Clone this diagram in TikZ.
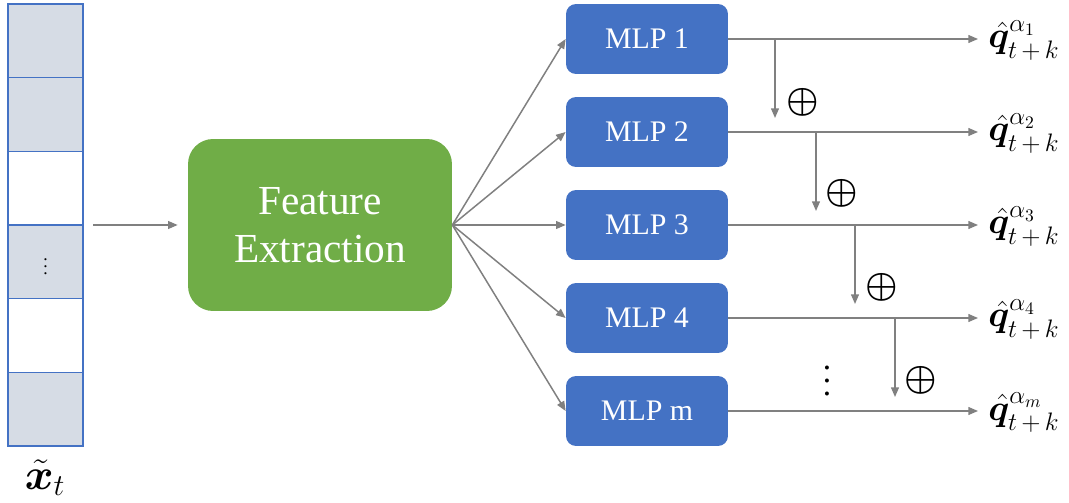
\documentclass[tikz,border=0pt]{standalone}
\usepackage{fontspec}
\setmainfont{Liberation Serif}
\usepackage{amsmath}
\usepackage{bm}
\usetikzlibrary{arrows.meta}

\definecolor{mlpblue}{HTML}{4472C4}
\definecolor{fegreen}{HTML}{70AD47}
\definecolor{cellgray}{HTML}{D6DCE5}
\definecolor{arrgray}{HTML}{808080}

\begin{document}
\begin{tikzpicture}[x=0.02cm, y=-0.02cm,
  arr/.style={draw=arrgray, line width=0.85pt, -{Triangle[length=5.5pt, width=4.5pt]}},
  cell/.style={draw=mlpblue, line width=0.8pt, minimum width=1.5cm, minimum height=1.4733cm, inner sep=0pt},
  mlpbox/.style={fill=mlpblue, rounded corners=0.2cm, minimum width=3.24cm, minimum height=1.4cm, text=white, font=\fontsize{17}{20}\selectfont},
  plus/.style={inner sep=0pt, font=\fontsize{21}{24}\selectfont},
  qout/.style={anchor=base west, inner sep=0pt, font=\fontsize{20.5}{24}\selectfont}]

\useasboundingbox (0,0) rectangle (1069,503);

% input vector
\node[cell, fill=cellgray] (c1) at (45.5,40.8)  {};
\node[cell, fill=cellgray] (c2) at (45.5,114.5) {};
\node[cell, fill=white]    (c3) at (45.5,188.2) {};
\node[cell, fill=cellgray] (c4) at (45.5,261.8) {$\vdots$};
\node[cell, fill=white]    (c5) at (45.5,335.5) {};
\node[cell, fill=cellgray] (c6) at (45.5,409.2) {};
\node (xt) at (45,478) {\fontsize{26}{30}\selectfont $\tilde{\bm{x}}_t$};

% feature extraction
\node[fill=fegreen, rounded corners=0.5cm, minimum width=5.28cm, minimum height=3.44cm,
      text=white, align=center, font=\fontsize{23.5}{27}\selectfont] (fe) at (320,225) {Feature\\Extraction};
\coordinate (vin) at (93,225);
\draw[arr, shorten >=0.2cm] (vin) -- (fe.west);

% heads
\node[mlpbox] (mlp1) at (647,39)  {MLP 1};
\node[mlpbox] (mlp2) at (647,132) {MLP 2};
\node[mlpbox] (mlp3) at (647,225) {MLP 3};
\node[mlpbox] (mlp4) at (647,318) {MLP 4};
\node[mlpbox] (mlpm) at (647,411) {MLP m};

\draw[arr] (fe.east) -- (mlp1.west);
\draw[arr] (fe.east) -- (mlp2.west);
\draw[arr] (fe.east) -- (mlp3.west);
\draw[arr] (fe.east) -- (mlp4.west);
\draw[arr] (fe.east) -- (mlpm.west);

% outputs
\coordinate (o1) at (978,39);
\coordinate (o2) at (978,132);
\coordinate (o3) at (978,225);
\coordinate (o4) at (978,318);
\coordinate (om) at (978,411);
\draw[arr] (mlp1.east) -- (o1);
\draw[arr] (mlp2.east) -- (o2);
\draw[arr] (mlp3.east) -- (o3);
\draw[arr] (mlp4.east) -- (o4);
\draw[arr] (mlpm.east) -- (om);
\node[qout] (q1) at (988,48)  {$\hat{\bm{q}}^{\alpha_1}_{t\,+\,k}$};
\node[qout] (q2) at (988,141) {$\hat{\bm{q}}^{\alpha_2}_{t\,+\,k}$};
\node[qout] (q3) at (988,234) {$\hat{\bm{q}}^{\alpha_3}_{t\,+\,k}$};
\node[qout] (q4) at (988,327) {$\hat{\bm{q}}^{\alpha_4}_{t\,+\,k}$};
\node[qout] (qm) at (988,420) {$\hat{\bm{q}}^{\alpha_m}_{t\,+\,k}$};

% cumulative sums
\coordinate (t1) at (775,39);  \coordinate (d1) at (775,118);
\coordinate (t2) at (816,132); \coordinate (d2) at (816,211);
\coordinate (t3) at (855,225); \coordinate (d3) at (855,304);
\coordinate (t4) at (895,318); \coordinate (d4) at (895,397);
\draw[arr] (t1) -- (d1);
\draw[arr] (t2) -- (d2);
\draw[arr] (t3) -- (d3);
\draw[arr] (t4) -- (d4);
\node[plus] (p1) at (803,102) {$\bm{\oplus}$};
\node[plus] (p2) at (842,193) {$\bm{\oplus}$};
\node[plus] (p3) at (882,287) {$\bm{\oplus}$};
\node[plus] (p4) at (921,380) {$\bm{\oplus}$};
\node (dots) at (827,371) {\scalebox{1.9}{$\vdots$}};

\end{tikzpicture}
\end{document}
